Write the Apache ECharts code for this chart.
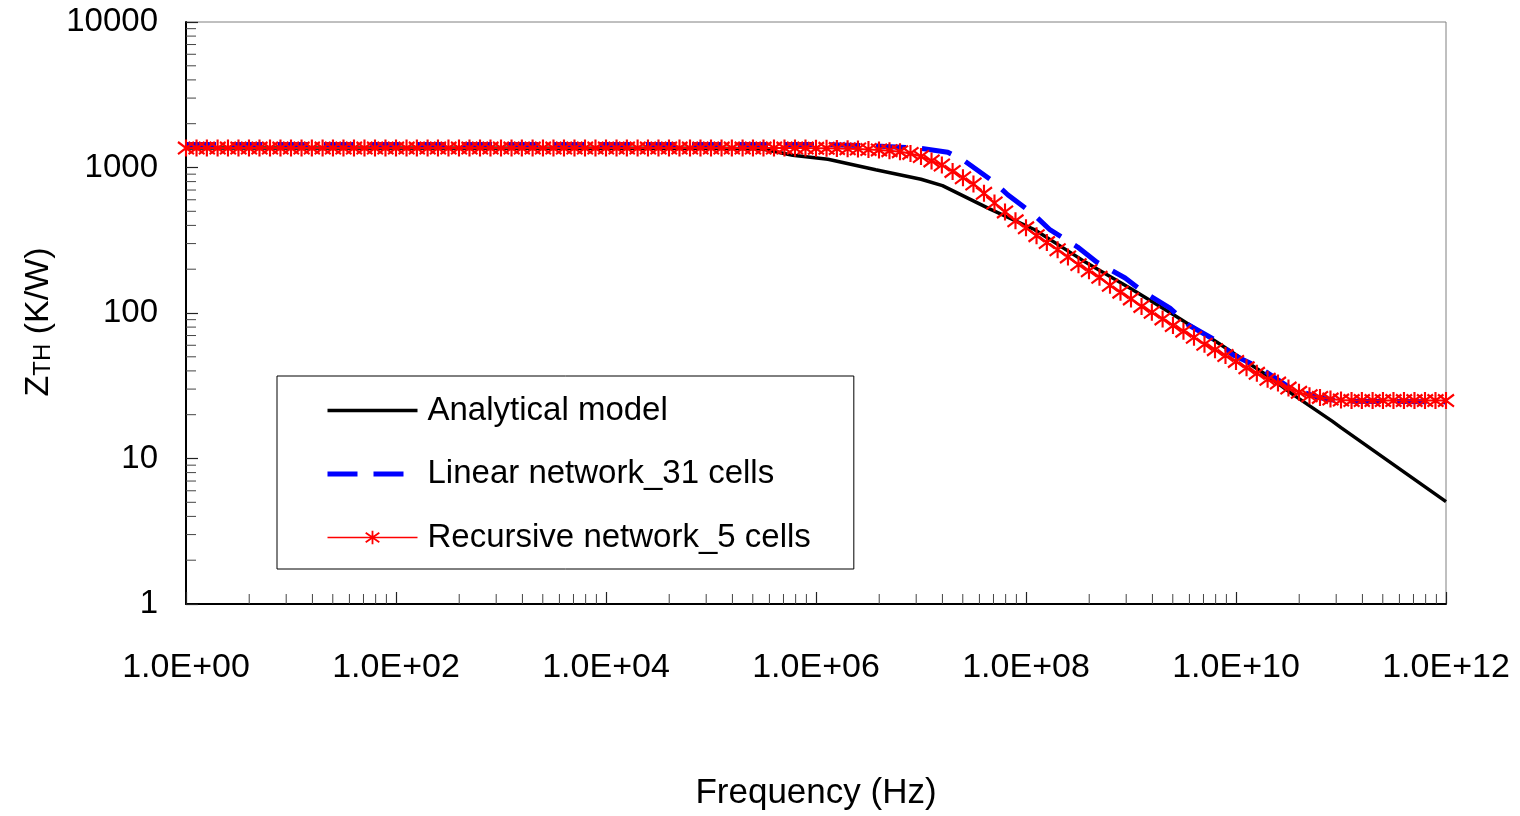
<!DOCTYPE html>
<html><head><meta charset="utf-8">
<script src="https://cdn.jsdelivr.net/npm/echarts@6/dist/echarts.min.js"></script>
<style>html,body{margin:0;padding:0;background:#fff}#c{width:1520px;height:816px}</style>
</head><body><div id="c"></div>
<script>
// ---------- data ----------
const seriesNames = ['Analytical model', 'Linear network_31 cells', 'Recursive network_5 cells'];
const xTickLabels = ['1.0E+00', '1.0E+02', '1.0E+04', '1.0E+06', '1.0E+08', '1.0E+10', '1.0E+12'];
const yTickLabels = ['1', '10', '100', '1000', '10000'];

const analyticalFreq = [1, 1e5, 3e5, 6e5, 1.3e6, 3.7e6, 1e7, 1.6e7, 4.5e7, 1.2e8, 3.5e8, 1e9, 2.5e9, 6.6e9, 2e10, 3.5e10, 8.3e10, 1e11, 1e12];
const analyticalZth = [1360, 1358, 1345, 1215, 1140, 965, 830, 750, 520, 375, 229, 147, 98, 63, 37, 27.5, 18.0, 16.3, 5.05];

const linearFreq = [1, 1e6, 3e6, 9.8e6, 1.8e7, 2.6e7, 4.9e7, 6.7e7, 1.17e8, 1.7e8, 3.1e8, 4.7e8, 8.8e8, 1.27e9, 2.35e9, 3.5e9, 6.3e9, 9.4e9, 1.7e10, 3.3e10, 6.3e10, 1e11, 1e12];
const linearZth = [1440, 1440, 1415, 1355, 1274, 1109, 800, 650, 479, 372, 284, 224, 174, 142, 108, 83, 65.3, 51.4, 41.9, 30.5, 26.1, 24.8, 24.5];

const recursiveFreq = [
  1, 1.26, 1.58, 2, 2.51, 3.16, 3.98, 5.01, 6.31, 7.94,
  1e1, 1.26e1, 1.58e1, 2e1, 2.51e1, 3.16e1, 3.98e1, 5.01e1, 6.31e1, 7.94e1,
  1e2, 1.26e2, 1.58e2, 2e2, 2.51e2, 3.16e2, 3.98e2, 5.01e2, 6.31e2, 7.94e2,
  1e3, 1.26e3, 1.58e3, 2e3, 2.51e3, 3.16e3, 3.98e3, 5.01e3, 6.31e3, 7.94e3,
  1e4, 1.26e4, 1.58e4, 2e4, 2.51e4, 3.16e4, 3.98e4, 5.01e4, 6.31e4, 7.94e4,
  1e5, 1.26e5, 1.58e5, 2e5, 2.51e5, 3.16e5, 3.98e5, 5.01e5, 6.31e5, 7.94e5,
  1e6, 1.26e6, 1.58e6, 2e6, 2.51e6, 3.16e6, 3.98e6, 5.01e6, 6.31e6, 7.94e6,
  1e7, 1.26e7, 1.58e7, 2e7, 2.51e7, 3.16e7, 3.98e7, 5.01e7, 6.31e7, 7.94e7,
  1e8, 1.26e8, 1.58e8, 2e8, 2.51e8, 3.16e8, 3.98e8, 5.01e8, 6.31e8, 7.94e8,
  1e9, 1.26e9, 1.58e9, 2e9, 2.51e9, 3.16e9, 3.98e9, 5.01e9, 6.31e9, 7.94e9,
  1e10, 1.26e10, 1.58e10, 2e10, 2.51e10, 3.16e10, 3.98e10, 5.01e10, 6.31e10, 7.94e10,
  1e11, 1.26e11, 1.58e11, 2e11, 2.51e11, 3.16e11, 3.98e11, 5.01e11, 6.31e11, 7.94e11,
  1e12
];
const recursiveZth = [
  1360, 1360, 1360, 1360, 1360, 1360, 1360, 1360, 1360, 1360,
  1360, 1360, 1360, 1360, 1360, 1360, 1360, 1360, 1360, 1360,
  1360, 1360, 1360, 1360, 1360, 1360, 1360, 1360, 1360, 1360,
  1360, 1360, 1360, 1360, 1360, 1360, 1360, 1360, 1360, 1360,
  1360, 1360, 1360, 1360, 1360, 1360, 1360, 1360, 1360, 1360,
  1360, 1360, 1360, 1360, 1360, 1360, 1360, 1360, 1360, 1360,
  1355, 1355, 1350, 1345, 1340, 1330, 1320, 1305, 1285, 1250,
  1190, 1110, 1040, 940, 850, 770, 665, 570, 495, 430,
  385, 340, 305, 272, 243, 215, 195, 176, 155, 139,
  125, 111, 101, 91, 82, 75, 68, 61, 56, 51,
  46.5, 42, 38.5, 35, 33, 30.5, 28.5, 27, 26.3, 25.6,
  25.2, 25, 25, 25, 25, 25, 25, 25, 25, 25,
  25
];

// minor tick positions (axis decoration)
const xMinorTicks = [];
for (let n = 0; n < 6; n++) for (let k = 2; k <= 9; k++) xMinorTicks.push(Math.pow(100, n) * k * k);
const yMinorTicks = [];
for (let n = 0; n < 4; n++) for (let k = 2; k <= 9; k++) yMinorTicks.push(Math.pow(10, n) * k);

// ---------- chart ----------
const FONT = "'Liberation Sans',Arial,sans-serif";
const STAR = 'path://M6.5,0L6.5,14M0,2L13,12M0,12L13,2';
const zip = (a, b) => a.map((v, i) => [v, b[i]]);

const chart = echarts.init(document.getElementById('c'), null, { renderer: 'canvas' });

const option = {
  animation: false,
  backgroundColor: '#fff',
  grid: { left: 186, right: 74, top: 22, bottom: 212, show: true, borderColor: '#808080', borderWidth: 1,
    containLabel: false, outerBoundsMode: 'none' },
  xAxis: {
    type: 'log', logBase: 100, min: 1, max: 1e12,
    axisLine: { show: true, onZero: false, lineStyle: { color: '#000', width: 2 } },
    axisTick: { show: true, inside: true, length: 12, lineStyle: { color: '#222', width: 1.2 } },
    axisLabel: { margin: 47, fontSize: 34, fontFamily: FONT, color: '#000',
      formatter: v => xTickLabels[Math.round(Math.log10(v) / 2)] },
    splitLine: { show: false },
    name: 'Frequency (Hz)', nameLocation: 'middle', nameGap: 172,
    nameTextStyle: { fontSize: 35, fontFamily: FONT, color: '#000' }
  },
  yAxis: {
    type: 'log', logBase: 10, min: 1, max: 10000,
    axisLine: { show: true, onZero: false, lineStyle: { color: '#000', width: 2 } },
    axisTick: { show: true, inside: true, length: 12, lineStyle: { color: '#222', width: 1.2 } },
    axisLabel: { margin: 28, fontSize: 33, fontFamily: FONT, color: '#000',
      formatter: v => yTickLabels[Math.round(Math.log10(v))] },
    splitLine: { show: false },
    name: '{z|Z}{s|TH} (K/W)', nameLocation: 'middle', nameGap: 117, nameRotate: 90,
    nameTextStyle: { fontSize: 34, fontFamily: FONT, color: '#000', padding: [0, 18, 0, 0],
      rich: { z: { fontSize: 34, fontFamily: FONT, color: '#000' },
              s: { fontSize: 24, fontFamily: FONT, color: '#000', verticalAlign: 'bottom' } } }
  },
  legend: {
    left: 277, top: 376, orient: 'vertical', selectedMode: false,
    backgroundColor: '#fff', borderColor: '#000', borderWidth: 1,
    padding: [18, 43, 15, 48], itemGap: 30.5, itemWidth: 90, itemHeight: 17,
    textStyle: { fontSize: 33, fontFamily: FONT, color: '#000', lineHeight: 33, padding: [0, 0, 0, 5] },
    data: [
      { name: seriesNames[0], itemStyle: { opacity: 0 }, lineStyle: { width: 3.5 } },
      { name: seriesNames[1], itemStyle: { opacity: 0 }, lineStyle: { width: 5 } },
      { name: seriesNames[2], lineStyle: { width: 1.5 }, itemStyle: { borderWidth: 1.8 } }
    ]
  },
  series: [
    { type: 'custom', silent: true, clip: false, z: 1,
      data: xMinorTicks.map(v => [v, 1]),
      renderItem: (p, api) => {
        const c = api.coord([api.value(0), api.value(1)]);
        return { type: 'line', shape: { x1: c[0], y1: c[1], x2: c[0], y2: c[1] - 10 }, style: { stroke: '#444', lineWidth: 1 } };
      } },
    { type: 'custom', silent: true, clip: false, z: 1,
      data: yMinorTicks.map(v => [1, v]),
      renderItem: (p, api) => {
        const c = api.coord([api.value(0), api.value(1)]);
        return { type: 'line', shape: { x1: c[0], y1: c[1], x2: c[0] + 10, y2: c[1] }, style: { stroke: '#444', lineWidth: 1 } };
      } },
    { name: seriesNames[0], type: 'line', data: zip(analyticalFreq, analyticalZth), symbol: 'none',
      lineStyle: { color: '#000', width: 3.5 }, itemStyle: { color: '#000' }, z: 3, clip: false, silent: true },
    { name: seriesNames[1], type: 'line', data: zip(linearFreq, linearZth), symbol: 'none',
      lineStyle: { color: '#0000ff', width: 5, type: [30, 16], cap: 'butt' }, itemStyle: { color: '#0000ff' }, z: 3, clip: false, silent: true },
    { name: seriesNames[2], type: 'line', data: zip(recursiveFreq, recursiveZth),
      symbol: STAR, symbolSize: [16, 17], showSymbol: true, showAllSymbol: true,
      lineStyle: { color: '#ff0000', width: 2 },
      itemStyle: { color: '#ff0000', borderColor: '#ff0000', borderWidth: 2.2 }, z: 3, clip: false, silent: true }
  ]
};
chart.setOption(option);
</script>
</body></html>
